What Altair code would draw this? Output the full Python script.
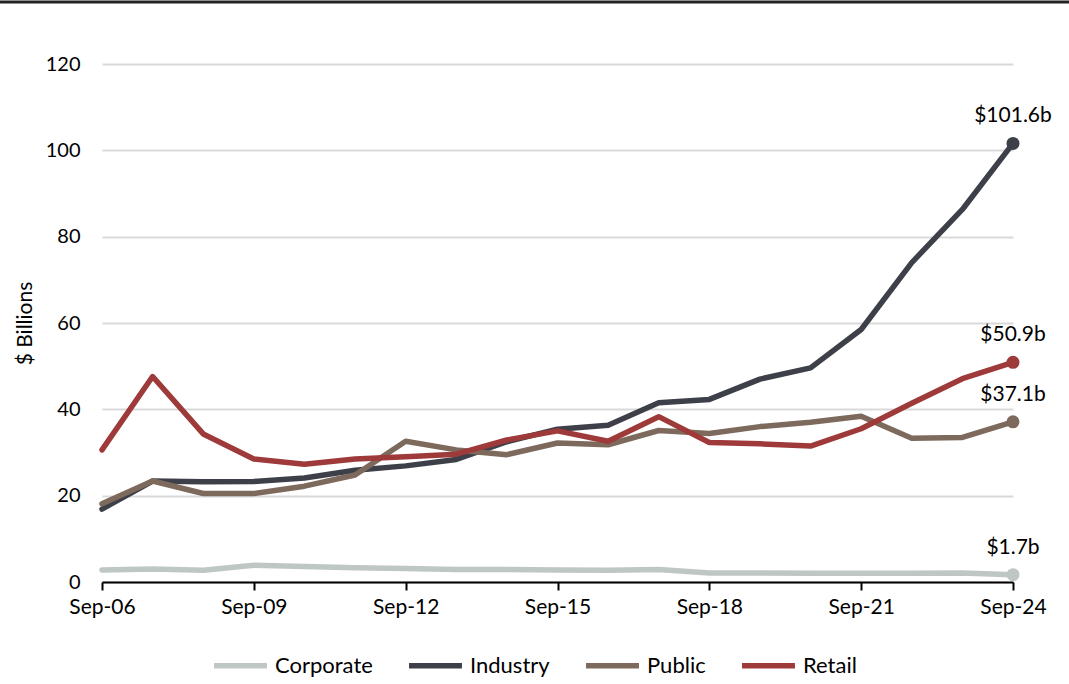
import altair as alt
import pandas as pd

dates = ["Sep-06", "Sep-07", "Sep-08", "Sep-09", "Sep-10", "Sep-11", "Sep-12",
         "Sep-13", "Sep-14", "Sep-15", "Sep-16", "Sep-17", "Sep-18", "Sep-19",
         "Sep-20", "Sep-21", "Sep-22", "Sep-23", "Sep-24"]
tick_dates = ["Sep-06", "Sep-09", "Sep-12", "Sep-15", "Sep-18", "Sep-21", "Sep-24"]

corporate = [2.8, 3.0, 2.7, 3.9, 3.6, 3.3, 3.1, 2.9, 2.9, 2.8, 2.7, 2.9, 2.1, 2.1,
             2.0, 2.0, 2.0, 2.1, 1.7]
industry = [16.9, 23.4, 23.2, 23.3, 24.1, 25.9, 26.9, 28.4, 32.5, 35.4, 36.3, 41.5,
            42.3, 47.0, 49.6, 58.5, 74.0, 86.3, 101.6]
public = [18.1, 23.4, 20.5, 20.5, 22.2, 24.8, 32.6, 30.6, 29.5, 32.2, 31.8, 35.1,
          34.4, 36.0, 37.0, 38.4, 33.3, 33.5, 37.1]
retail = [30.6, 47.6, 34.3, 28.5, 27.3, 28.5, 29.0, 29.6, 32.9, 35.0, 32.6, 38.3,
          32.3, 32.0, 31.5, 35.5, 41.4, 47.1, 50.9]

series_names = ["Corporate", "Industry", "Public", "Retail"]
series_colors = ["#BFC7C5", "#3D4049", "#7D6A5D", "#9E3A3A"]
y_ticks = [0, 20, 40, 60, 80, 100, 120]

rows = []
for name, vals in zip(series_names, [corporate, industry, public, retail]):
    for d, v in zip(dates, vals):
        rows.append({"date": d, "series": name, "value": v, "label": f"${v:.1f}b"})
df = pd.DataFrame(rows)

FONT = "Lato"

x_enc = alt.X("date:O", sort=dates, scale=alt.Scale(type="point", padding=0),
              axis=alt.Axis(values=tick_dates, labelAngle=0, domainColor="black",
                            domainWidth=2, tickColor="black", tickWidth=2, tickSize=8,
                            labelFontSize=21, labelColor="black", labelPadding=6,
                            labelFont=FONT, title=None, grid=False))
y_enc = alt.Y("value:Q", scale=alt.Scale(domain=[0, 120]),
              axis=alt.Axis(values=y_ticks, grid=True, gridColor="#D9D9D9", gridWidth=2,
                            domain=False, ticks=False, labelFontSize=20, labelColor="black",
                            labelFont=FONT, labelPadding=22, title="$ Billions",
                            titleFontSize=21, titleFontWeight="normal", titleFont=FONT,
                            titleColor="black", titlePadding=10))
color_scale = alt.Scale(domain=series_names, range=series_colors)

lines = alt.Chart(df).mark_line(strokeWidth=5.5, strokeCap="round", strokeJoin="round").encode(
    x=x_enc, y=y_enc,
    color=alt.Color("series:N", scale=color_scale,
                    legend=alt.Legend(orient="none", legendX=109, legendY=572,
                                      direction="horizontal", title=None,
                                      symbolType="stroke", symbolStrokeWidth=5.5,
                                      symbolSize=2800, labelFontSize=22, labelFont=FONT,
                                      labelColor="black", columnPadding=25, labelOffset=5)),
    order=alt.Order("series:N"),
)

points = alt.Chart(df).mark_circle(size=170, opacity=1).encode(
    x=alt.X("date:O", sort=dates), y="value:Q",
    color=alt.Color("series:N", scale=color_scale, legend=None),
).transform_filter(alt.datum.date == "Sep-24")

labels = alt.Chart(df).mark_text(fontSize=21, font=FONT, color="black", dy=-21,
                                 baseline="alphabetic", align="center").encode(
    x=alt.X("date:O", sort=dates), y="value:Q", text="label:N",
).transform_filter(alt.datum.date == "Sep-24")

top_rule = alt.Chart(pd.DataFrame({"a": [0]})).mark_rule(color="#222222", strokeWidth=3).encode(
    x=alt.value(-102), x2=alt.value(967), y=alt.value(-62)
)

chart = alt.layer(lines, points, labels, top_rule).properties(
    width=911, height=518,
    padding={"left": 102, "top": 64, "right": 56, "bottom": 102},
    autosize=alt.AutoSizeParams(type="none"),
    background="white",
).configure_view(stroke=None)

chart.save("out.html", embed_options={"renderer": "svg", "actions": False})
